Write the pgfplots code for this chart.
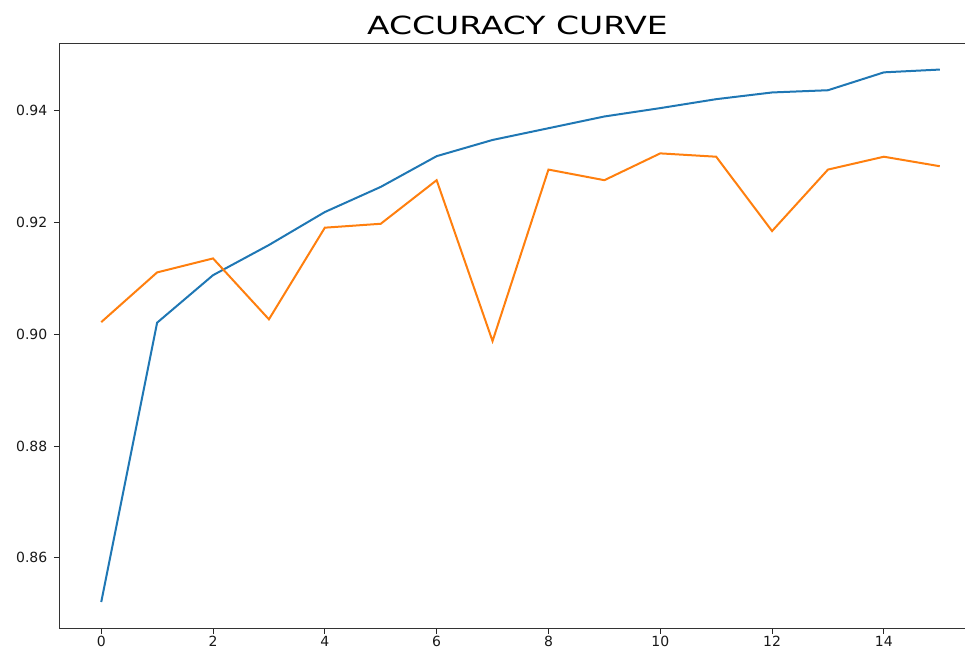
\documentclass[border=0pt]{standalone}
\usepackage{pgfplots}
\pgfplotsset{compat=1.18}
\usepackage{fontspec}
\setmainfont{DejaVu Sans}
\definecolor{mplblue}{HTML}{1F77B4}
\definecolor{mplorange}{HTML}{FF7F0E}
\begin{document}
\begin{tikzpicture}
\useasboundingbox (-59.3pt,-20pt) rectangle (905.7pt,628.3pt);
\clip (-59.3pt,-20pt) rectangle (905.7pt,628.3pt);
\begin{axis}[
  at={(0pt,0pt)}, anchor=south west,
  scale only axis,
  width=922.4pt, height=585pt,
  xmin=-0.75, xmax=15.75,
  ymin=0.8474, ymax=0.9521,
  xtick={0,2,...,14},
  ytick={0.86,0.88,0.90,0.92,0.94},
  yticklabel style={/pgf/number format/fixed, /pgf/number format/fixed zerofill, /pgf/number format/precision=2},
  /pgf/number format/assume math mode=true,
  tick align=outside, tick pos=left,
  major tick length=5.5pt,
  every tick/.style={black!85, line width=0.9pt},
  axis line style={black!80, line width=1pt},
  ticklabel style={font=\fontsize{14}{16}\selectfont, text=black!90},
  xticklabel style={yshift=1pt},
  yticklabel style={xshift=-3pt},
  title={\scalebox{1.32}[1]{ACCURACY CURVE}},
  title style={font=\fontsize{25}{28}\selectfont, at={(0.5,1)}, anchor=base, yshift=2.5pt, xshift=-3pt},
]
\addplot[mplblue, line width=2pt] coordinates {
(0,0.8521) (1,0.9021) (2,0.9106) (3,0.9160) (4,0.9219) (5,0.9264) (6,0.9319) (7,0.9348)
(8,0.9369) (9,0.9390) (10,0.9405) (11,0.9421) (12,0.9433) (13,0.9437) (14,0.9469) (15,0.9474)
};
\addplot[mplorange, line width=2pt] coordinates {
(0,0.9022) (1,0.9111) (2,0.9136) (3,0.9027) (4,0.9191) (5,0.9198) (6,0.9276) (7,0.8988)
(8,0.9295) (9,0.9276) (10,0.9324) (11,0.9318) (12,0.9185) (13,0.9295) (14,0.9318) (15,0.9301)
};
\end{axis}
\end{tikzpicture}
\end{document}
